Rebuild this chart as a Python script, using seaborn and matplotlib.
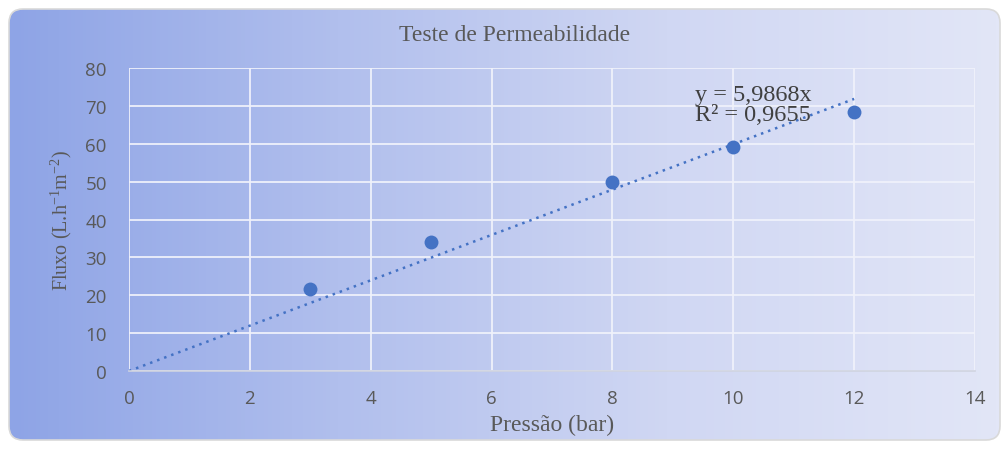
import numpy as np
import matplotlib
matplotlib.use('Agg')
import matplotlib.pyplot as plt
import seaborn as sns
import pandas as pd
from matplotlib.patches import FancyBboxPatch
from matplotlib.colors import LinearSegmentedColormap

pressao = [3, 5, 8, 10, 12]
fluxo = [21.6, 34.1, 49.9, 59.2, 68.4]
slope = 5.9868
r2 = 0.9655
x_ticks = [0, 2, 4, 6, 8, 10, 12, 14]
y_ticks = [0, 10, 20, 30, 40, 50, 60, 70, 80]

sns.set_theme(style="white")
plt.rcParams['font.family'] = ['Liberation Serif', 'DejaVu Serif']
plt.rcParams['mathtext.fontset'] = 'custom'
plt.rcParams['mathtext.rm'] = 'Liberation Serif'
plt.rcParams['mathtext.it'] = 'Liberation Serif'

fig = plt.figure(figsize=(10.07, 4.52), dpi=100)
fig.patch.set_facecolor('white')

# fundo com gradiente e cantos arredondados
bg = fig.add_axes([0, 0, 1, 1], zorder=0)
bg.set_xlim(0, 1007)
bg.set_ylim(452, 0)
bg.axis('off')
cmap = LinearSegmentedColormap.from_list('bg', ['#8ea4e6', '#b1bfed', '#d0d7f3', '#e2e6f7'])
grad = np.linspace(0, 1, 256).reshape(1, -1)
im = bg.imshow(grad, cmap=cmap, extent=[9, 1000, 441, 10], aspect='auto')
box = FancyBboxPatch((9, 10), 991, 431, boxstyle="round,pad=0,rounding_size=14",
                     facecolor='none', edgecolor='#d9d9d9', lw=1.2, transform=bg.transData)
bg.add_patch(box)
im.set_clip_path(box)

ax = fig.add_axes([0.1281, 0.177, 0.8401, 0.6703], zorder=1)
ax.set_facecolor('none')

df = pd.DataFrame({'Pressão': pressao, 'Fluxo': fluxo})
xs = np.array([0, 12])
ax.plot(xs, slope * xs, ls=(0, (1, 2)), color='#4472c4', lw=1.8, zorder=2)
sns.scatterplot(data=df, x='Pressão', y='Fluxo', ax=ax, s=100, color='#4472c4',
                edgecolor='#4472c4', linewidth=0, zorder=3)

ax.set_xlim(0, 14)
ax.set_ylim(0, 80)
ax.set_xticks(x_ticks)
ax.set_yticks(y_ticks)
ax.grid(True, color='#f0f2fb', lw=1.4, alpha=0.9)
ax.set_axisbelow(True)
for s in ['top', 'right', 'left']:
    ax.spines[s].set_visible(False)
ax.spines['bottom'].set_color('#d0d4e0')
ax.spines['bottom'].set_linewidth(1.2)
ax.tick_params(axis='both', length=0, labelsize=13.5, labelcolor='#595959')
ax.tick_params(axis='x', pad=13)
ax.tick_params(axis='y', pad=16)
for lab in ax.get_xticklabels() + ax.get_yticklabels():
    lab.set_fontfamily(['Open Sans', 'DejaVu Sans'])

ax.set_xlabel('Pressão (bar)', fontsize=17, color='#595959', labelpad=5)
ax.set_ylabel('Fluxo (L.h$^{-1}$m$^{-2}$)', fontsize=14.5, color='#595959', labelpad=8)
fig.text(0.511, 0.922, 'Teste de Permeabilidade', ha='center', va='center', fontsize=17, color='#595959')

ax.text(0.669, 0.912, f'y = {slope:.4f}x'.replace('.', ','), transform=ax.transAxes,
        fontsize=17.5, color='#404040', va='center')
ax.text(0.669, 0.845, f'R² = {r2:.4f}'.replace('.', ','), transform=ax.transAxes,
        fontsize=17.5, color='#404040', va='center')

fig.savefig('out.png', dpi=100)
